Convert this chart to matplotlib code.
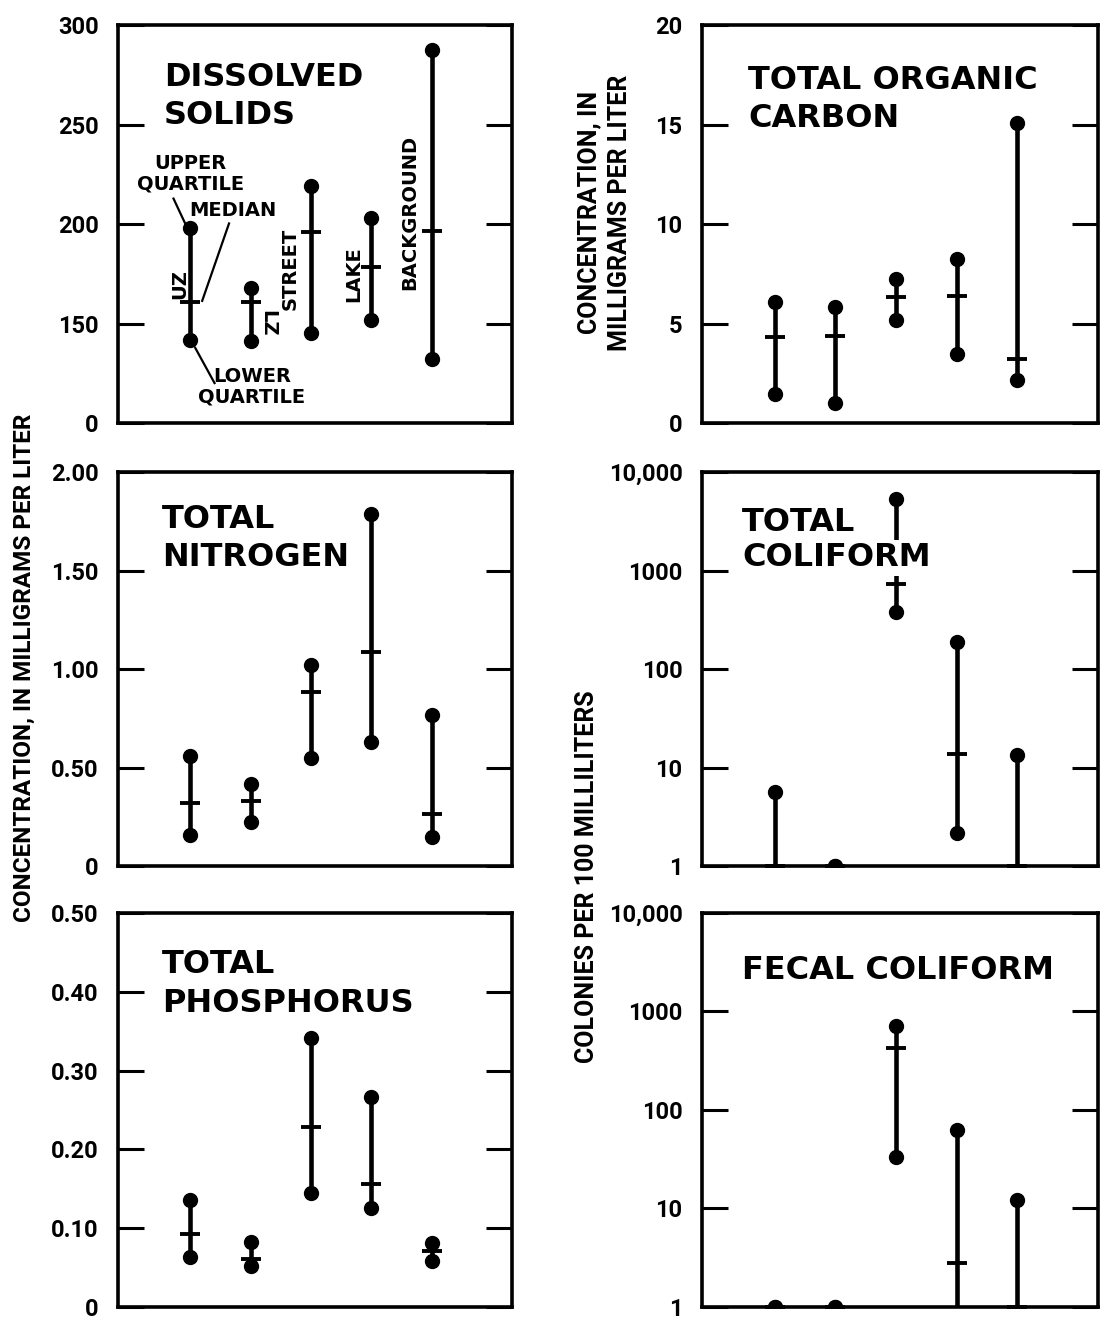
import matplotlib
matplotlib.use("Agg")
import numpy as np
import matplotlib.pyplot as plt

# sites, left to right: UZ, LZ, street, lake, background
sites = [1, 2, 3, 4, 5]

# dissolved solids (mg/L), axis broken below 150
ds_lower = [141.9, 141.2, 145.4, 151.7, 132.2]
ds_median = [160.7, 161.0, 195.8, 178.5, 196.3]
ds_upper = [198.0, 167.8, 219.0, 203.0, 287.3]

# total organic carbon (mg/L)
toc_lower = [1.45, 0.99, 5.16, 3.46, 2.15]
toc_median = [4.34, 4.40, 6.35, 6.39, 3.24]
toc_upper = [6.06, 5.84, 7.24, 8.23, 15.09]

# total nitrogen (mg/L)
tn_lower = [0.16, 0.225, 0.55, 0.63, 0.146]
tn_median = [0.32, 0.33, 0.886, 1.086, 0.264]
tn_upper = [0.56, 0.415, 1.02, 1.785, 0.766]

# total phosphorus (mg/L)
tp_lower = [0.064, 0.052, 0.145, 0.126, 0.059]
tp_median = [0.092, 0.061, 0.228, 0.156, 0.071]
tp_upper = [0.136, 0.083, 0.341, 0.266, 0.081]

# total coliform (colonies per 100 mL), values below 1 fall off the axis
tc_lower = [0.5, 1, 380, 2.15, 0.5]
tc_median = [1, 1, 738, 13.8, 1]
tc_upper = [5.7, 1, 5370, 188, 13.5]

# fecal coliform (colonies per 100 mL)
fc_lower = [1, 1, 33, 0.5, 0.5]
fc_median = [1, 1, 428, 2.8, 1]
fc_upper = [1, 1, 717, 62, 12.2]

narrow = ['Roboto', 'DejaVu Sans']
title_font = dict(family='DejaVu Sans', weight='bold', fontsize=23)
note_font = dict(family='DejaVu Sans', weight='bold', fontsize=14)

fig = plt.figure(figsize=(11.07, 13.2), dpi=100)

left_x, right_x = 0.1066, 0.6341
col_w_l, col_w_r = 0.3559, 0.3577
rows = [(0.6795, 0.3015), (0.3439, 0.2985), (0.00985, 0.2985)]


def make_ax(x, w, row):
    ax = fig.add_axes([x, rows[row][0], w, rows[row][1]])
    for s in ax.spines.values():
        s.set_linewidth(2.6)
    ax.set_xlim(-0.2, 6.33)
    ax.set_xticks([])
    ax.tick_params(axis='y', direction='in', length=19, width=2.2,
                   right=True, pad=14)
    return ax


def draw_boxes(ax, lower, median, upper):
    for x, lo, md, up in zip(sites, lower, median, upper):
        ax.plot([x, x], [lo, up], color='black', lw=3.3, solid_capstyle='butt', zorder=3)
        ax.plot([x, x], [lo, up], ls='none', marker='o', ms=10, color='black', zorder=3)
        ax.plot([x], [md], ls='none', marker='_', ms=15, mew=2.8, color='black',
                zorder=3, clip_on=False)


def set_yticks(ax, ticks, labels):
    ax.set_yticks(ticks)
    ax.set_yticklabels(labels)
    for t in ax.get_yticklabels():
        t.set_family(narrow)
        t.set_fontsize(17)
        t.set_weight('bold')


# dissolved solids
ax = make_ax(left_x, col_w_l, 0)
draw_boxes(ax, ds_lower, ds_median, ds_upper)
ax.set_ylim(100, 300)
set_yticks(ax, [100, 150, 200, 250, 300], ['0', '150', '200', '250', '300'])
ax.text(0.117, 0.821, 'DISSOLVED\nSOLIDS', transform=ax.transAxes, ha='left',
        va='center', linespacing=1.3, **title_font)
ax.text(1.0, 225.4, 'UPPER\nQUARTILE', ha='center', va='center', linespacing=1.1, **note_font)
ax.text(1.71, 206.8, 'MEDIAN', ha='center', va='center', **note_font)
ax.text(2.02, 118.0, 'LOWER\nQUARTILE', ha='center', va='center', linespacing=1.1, **note_font)
ax.plot([0.72, 0.93], [212.8, 199.2], color='black', lw=1.6)
ax.plot([1.64, 1.195], [200.3, 161.4], color='black', lw=1.6)
ax.plot([1.08, 1.40], [137.8, 120.1], color='black', lw=1.6)
ax.text(0.83, 170.0, 'UZ', rotation=90, ha='center', va='center', **note_font)
ax.text(2.29, 150.4, 'LZ', rotation=270, ha='center', va='center', **note_font)
ax.text(2.65, 177.6, 'STREET', rotation=90, ha='center', va='center', **note_font)
ax.text(3.71, 175.0, 'LAKE', rotation=90, ha='center', va='center', **note_font)
ax.text(4.64, 205.8, 'BACKGROUND', rotation=90, ha='center', va='center', **note_font)

# total organic carbon
ax = make_ax(right_x, col_w_r, 0)
draw_boxes(ax, toc_lower, toc_median, toc_upper)
ax.set_ylim(0, 20)
set_yticks(ax, [0, 5, 10, 15, 20], ['0', '5', '10', '15', '20'])
ax.text(0.117, 0.814, 'TOTAL ORGANIC\nCARBON', transform=ax.transAxes, ha='left',
        va='center', linespacing=1.3, **title_font)

# total nitrogen
ax = make_ax(left_x, col_w_l, 1)
draw_boxes(ax, tn_lower, tn_median, tn_upper)
ax.set_ylim(0, 2)
set_yticks(ax, [0, 0.5, 1.0, 1.5, 2.0], ['0', '0.50', '1.00', '1.50', '2.00'])
ax.text(0.111, 0.832, 'TOTAL\nNITROGEN', transform=ax.transAxes, ha='left',
        va='center', linespacing=1.3, **title_font)

# total coliform
ax = make_ax(right_x, col_w_r, 1)
ax.set_yscale('log')
draw_boxes(ax, tc_lower, tc_median, tc_upper)
ax.set_ylim(1, 10000)
ax.minorticks_off()
set_yticks(ax, [1, 10, 100, 1000, 10000], ['1', '10', '100', '1000', '10,000'])
ax.text(0.102, 0.873, 'TOTAL', transform=ax.transAxes, ha='left', va='center',
        zorder=5, **title_font)
ax.text(0.102, 0.782, 'COLIFORM', transform=ax.transAxes, ha='left', va='center',
        zorder=5, bbox=dict(facecolor='white', edgecolor='none', pad=1.5), **title_font)

# total phosphorus
ax = make_ax(left_x, col_w_l, 2)
draw_boxes(ax, tp_lower, tp_median, tp_upper)
ax.set_ylim(0, 0.5)
set_yticks(ax, [0, 0.1, 0.2, 0.3, 0.4, 0.5], ['0', '0.10', '0.20', '0.30', '0.40', '0.50'])
ax.text(0.112, 0.82, 'TOTAL\nPHOSPHORUS', transform=ax.transAxes, ha='left',
        va='center', linespacing=1.3, **title_font)

# fecal coliform
ax = make_ax(right_x, col_w_r, 2)
ax.set_yscale('log')
draw_boxes(ax, fc_lower, fc_median, fc_upper)
ax.set_ylim(1, 10000)
ax.minorticks_off()
set_yticks(ax, [1, 10, 100, 1000, 10000], ['1', '10', '100', '1000', '10,000'])
ax.text(0.10, 0.855, 'FECAL COLIFORM', transform=ax.transAxes, ha='left',
        va='center', **title_font)

# axis titles
fig.text(0.0217, 0.494, 'CONCENTRATION, IN MILLIGRAMS PER LITER', rotation=90,
         ha='center', va='center', family=narrow, weight='bold', fontsize=17.5)
fig.text(0.5465, 0.839, 'CONCENTRATION, IN\nMILLIGRAMS PER LITER', rotation=90,
         ha='center', va='center', family=narrow, weight='bold', fontsize=18,
         linespacing=1.35)
fig.text(0.530, 0.3356, 'COLONIES PER 100 MILLILITERS', rotation=90,
         ha='center', va='center', family=narrow, weight='bold', fontsize=18)

fig.savefig('out.png', dpi=100)
